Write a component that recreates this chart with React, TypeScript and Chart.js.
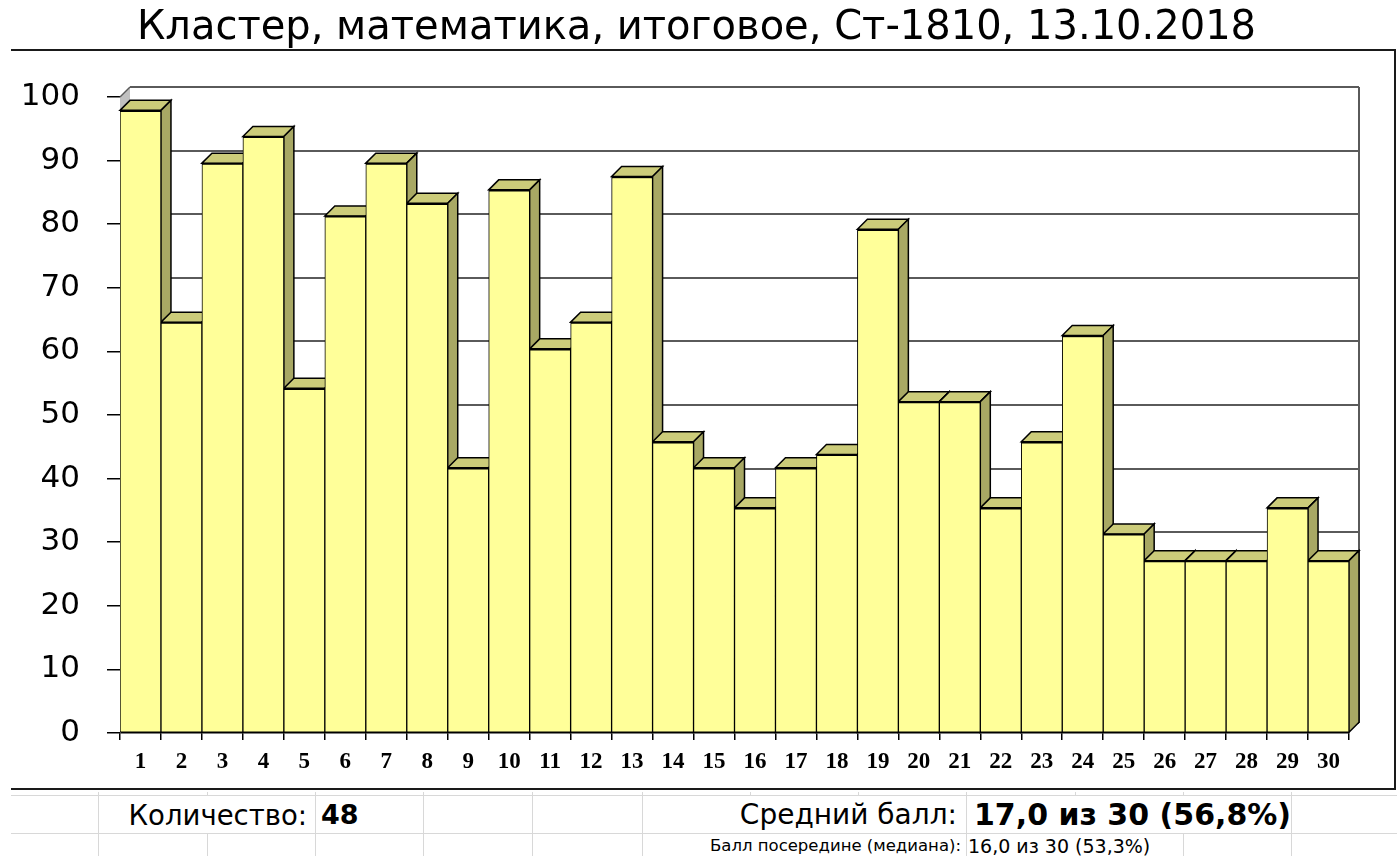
import React, { useEffect, useRef } from 'react';
import { Chart, registerables } from 'chart.js';

Chart.register(...registerables);

// ---------- data ----------
const TITLE = 'Кластер, математика, итоговое, Ст-1810, 13.10.2018';
const TASKS = ['1', '2', '3', '4', '5', '6', '7', '8', '9', '10', '11', '12', '13', '14', '15',
  '16', '17', '18', '19', '20', '21', '22', '23', '24', '25', '26', '27', '28', '29', '30'];
const SOLVED_PCT = [97.9, 64.6, 89.6, 93.8, 54.2, 81.3, 89.6, 83.3, 41.7, 85.4,
  60.4, 64.6, 87.5, 45.8, 41.7, 35.4, 41.7, 43.8, 79.2, 52.1,
  52.1, 35.4, 45.8, 62.5, 31.3, 27.1, 27.1, 27.1, 35.4, 27.1];
const Y_MIN = 0;
const Y_MAX = 100;
const Y_STEP = 10;

const COUNT_LABEL = 'Количество:';
const COUNT_VALUE = '48';
const MEAN_LABEL = 'Средний балл:';
const MEAN_VALUE = '17,0 из 30 (56,8%)';
const MEDIAN_LABEL = 'Балл посередине (медиана):';
const MEDIAN_VALUE = '16,0 из 30 (53,3%)';

// ---------- styling ----------
const W = 1397;
const CANVAS_H = 792;
const DX = 10;
const DY = 10;
const FRONT = '#ffff99';
const TOPC = '#cccc7a';
const SIDE = '#a8a864';
const GRID = '#5a5a5a';

const depthPlugin = {
  id: 'depth3d',
  beforeDraw(chart: any) {
    const { ctx } = chart;
    ctx.save();
    ctx.fillStyle = '#ffffff';
    ctx.fillRect(0, 50, chart.width, chart.height - 50);
    ctx.strokeStyle = '#1a1a1a';
    ctx.lineWidth = 2;
    ctx.beginPath();
    ctx.moveTo(11, 50);
    ctx.lineTo(1395, 50);
    ctx.lineTo(1395, 789);
    ctx.lineTo(11, 789);
    ctx.stroke();
    ctx.restore();
  },
  beforeDatasetsDraw(chart: any) {
    const { ctx, chartArea: ca } = chart;
    const y = chart.scales.y;
    ctx.save();
    // left wall
    ctx.fillStyle = '#c0c0c0';
    ctx.beginPath();
    ctx.moveTo(ca.left, ca.top);
    ctx.lineTo(ca.left + DX, ca.top - DY);
    ctx.lineTo(ca.left + DX, ca.bottom - DY);
    ctx.lineTo(ca.left, ca.bottom);
    ctx.closePath();
    ctx.fill();
    ctx.strokeStyle = GRID;
    ctx.lineWidth = 1.5;
    ctx.beginPath();
    ctx.moveTo(ca.left, ca.top);
    ctx.lineTo(ca.left + DX, ca.top - DY);
    ctx.stroke();
    // back wall grid
    ctx.strokeStyle = GRID;
    ctx.lineWidth = 2;
    for (const t of y.ticks) {
      const py = Math.round(y.getPixelForValue(t.value) - DY);
      ctx.beginPath();
      ctx.moveTo(ca.left + DX, py);
      ctx.lineTo(ca.right + DX, py);
      ctx.stroke();
    }
    ctx.beginPath();
    ctx.moveTo(ca.right + DX, ca.top - DY);
    ctx.lineTo(ca.right + DX, ca.bottom - DY);
    ctx.stroke();
    // tops and sides of bars, left to right
    const meta = chart.getDatasetMeta(0);
    ctx.lineWidth = 1.5;
    ctx.strokeStyle = '#000';
    ctx.lineJoin = 'miter';
    meta.data.forEach((bar: any) => {
      const p = bar.getProps(['x', 'y', 'base', 'width'], true);
      const l = p.x - p.width / 2;
      const r = p.x + p.width / 2;
      const top = p.y;
      const base = p.base;
      ctx.fillStyle = TOPC;
      ctx.beginPath();
      ctx.moveTo(l, top);
      ctx.lineTo(l + DX, top - DY);
      ctx.lineTo(r + DX, top - DY);
      ctx.lineTo(r, top);
      ctx.closePath();
      ctx.fill();
      ctx.stroke();
      ctx.fillStyle = SIDE;
      ctx.beginPath();
      ctx.moveTo(r, top);
      ctx.lineTo(r + DX, top - DY);
      ctx.lineTo(r + DX, base - DY);
      ctx.lineTo(r, base);
      ctx.closePath();
      ctx.fill();
      ctx.stroke();
    });
    ctx.restore();
  },
};

function ChartBox() {
  const ref = useRef<HTMLCanvasElement | null>(null);
  useEffect(() => {
    if (!ref.current) return;
    const ticks: number[] = [];
    for (let v = Y_MIN; v <= Y_MAX; v += Y_STEP) ticks.push(v);
    const chart = new Chart(ref.current, {
      type: 'bar',
      data: {
        labels: TASKS,
        datasets: [{
          data: SOLVED_PCT,
          backgroundColor: FRONT,
          borderColor: '#000',
          borderWidth: { top: 2, left: 1, right: 1, bottom: 1 },
          borderSkipped: false,
          categoryPercentage: 1,
          barPercentage: 1,
        }],
      },
      options: {
        responsive: false,
        animation: false,
        devicePixelRatio: 1,
        layout: { padding: { left: 0, right: 48, top: 97, bottom: 0 } },
        plugins: {
          legend: { display: false },
          tooltip: { enabled: false },
          title: { display: false },
        },
        scales: {
          x: {
            offset: true,
            grid: { display: true, drawOnChartArea: false, drawTicks: true, tickLength: 7, color: '#000', lineWidth: 1.5, offset: true },
            border: { display: true, color: '#000', width: 1.5 },
            ticks: {
              color: '#000',
              autoSkip: false,
              maxRotation: 0,
              padding: 8,
              font: { family: "'Liberation Serif'", size: 23, weight: 'bold' },
            },
            afterFit: (s: any) => { s.height = CANVAS_H - 733; },
          },
          y: {
            min: Y_MIN,
            max: Y_MAX,
            afterBuildTicks: (s: any) => { s.ticks = ticks.map((v) => ({ value: v })); },
            grid: { display: true, drawOnChartArea: false, drawTicks: true, tickLength: 13, color: '#000', lineWidth: 1.5 },
            border: { display: false },
            ticks: {
              color: '#000',
              padding: 27,
              font: { family: "'DejaVu Sans'", size: 31 },
            },
            afterFit: (s: any) => { s.width = 120; },
          },
        },
      },
      plugins: [depthPlugin],
    });
    return () => chart.destroy();
  }, []);
  return <canvas ref={ref} width={W} height={CANVAS_H} style={{ position: 'absolute', left: 0, top: 0 }} />;
}

const GRID_X = [98, 207, 315, 423, 532, 642, 750, 858, 966, 1075, 1183, 1291];
const ROW1_HIDDEN = [207, 750, 858, 1075, 1183];
const ROW2_HIDDEN = [750, 858, 1075];
const ROW1_TOP = 795;
const ROW2_TOP = 833;
const SHEET_LINE = '#d8d8d8';

export default function App() {
  const vlines: React.ReactNode[] = [];
  GRID_X.forEach((x) => {
    vlines.push(<div key={'s' + x} style={{ position: 'absolute', left: x, top: 789, width: 1, height: ROW1_TOP - 789, background: SHEET_LINE }} />);
    if (!ROW1_HIDDEN.includes(x)) vlines.push(<div key={'a' + x} style={{ position: 'absolute', left: x, top: ROW1_TOP, width: 1, height: ROW2_TOP - ROW1_TOP, background: SHEET_LINE }} />);
    if (!ROW2_HIDDEN.includes(x)) vlines.push(<div key={'b' + x} style={{ position: 'absolute', left: x, top: ROW2_TOP, width: 1, height: 856 - ROW2_TOP, background: SHEET_LINE }} />);
  });
  const txt = (extra: React.CSSProperties): React.CSSProperties => ({
    position: 'absolute', whiteSpace: 'nowrap', fontFamily: "'DejaVu Sans'", color: '#000', ...extra,
  });
  return (
    <div style={{ position: 'relative', width: W, height: 856, overflow: 'hidden', background: '#fff' }}>
      <style>{'body{margin:0;}'}</style>
      <div style={{ position: 'absolute', left: 11, top: ROW1_TOP, width: W - 11, height: 1, background: SHEET_LINE }} />
      <div style={{ position: 'absolute', left: 11, top: ROW2_TOP, width: W - 11, height: 1, background: SHEET_LINE }} />
      {vlines}
      <ChartBox />
      <div style={txt({ left: 0, width: 1393, top: 0, textAlign: 'center', lineHeight: '50px', fontSize: 40 })}>{TITLE}</div>
      <div style={txt({ right: W - 307, top: ROW1_TOP + 1, lineHeight: '38px', fontSize: 27.5 })}>{COUNT_LABEL}</div>
      <div style={txt({ left: 321, top: ROW1_TOP + 1, lineHeight: '38px', fontSize: 27, fontWeight: 'bold' })}>{COUNT_VALUE}</div>
      <div style={txt({ right: W - 957, top: ROW1_TOP + 1, lineHeight: '38px', fontSize: 28 })}>{MEAN_LABEL}</div>
      <div style={txt({ left: 974, top: ROW1_TOP + 1, lineHeight: '38px', fontSize: 30, fontWeight: 'bold' })}>{MEAN_VALUE}</div>
      <div style={txt({ right: W - 961, top: ROW2_TOP + 1, lineHeight: '24px', fontSize: 16.5 })}>{MEDIAN_LABEL}</div>
      <div style={txt({ left: 968, top: ROW2_TOP + 1, lineHeight: '24px', fontSize: 19 })}>{MEDIAN_VALUE}</div>
    </div>
  );
}
